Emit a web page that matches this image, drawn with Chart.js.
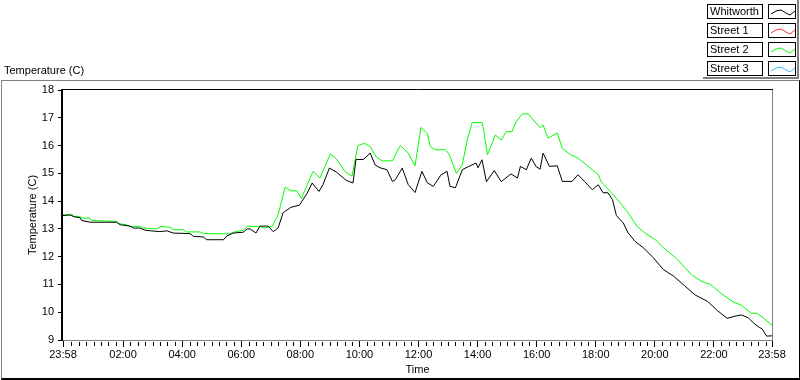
<!DOCTYPE html>
<html>
<head>
<meta charset="utf-8">
<script src="https://cdn.jsdelivr.net/npm/chart.js@4"></script>
<style>
  body { margin: 0; background: #fff; }
  #wrap { position: relative; width: 800px; height: 380px; overflow: hidden; font-family: "Liberation Sans", Arial, sans-serif; font-size: 11px; color: #000; }
  #frame { position: absolute; left: 1px; top: 80px; width: 799px; height: 300px; box-sizing: border-box;
           border-top: 1px solid #808080; border-left: 1px solid #808080; border-right: 1px solid #000; border-bottom: 2px solid #000; }
  #chart { position: absolute; left: 0; top: 0; }
  #plotTitle { position: absolute; left: 4px; top: 64px; line-height: 13px; }
  #legend { position: absolute; left: 703px; top: 0; width: 96px; height: 79px; box-sizing: border-box;
            border-right: 2px solid #808080; border-bottom: 2px solid #808080; }
  .row { position: absolute; left: 4px; height: 15px; }
  .lbl { position: absolute; left: 0; top: 0; width: 56px; height: 15px; box-sizing: border-box; border: 1px solid #000;
         padding-left: 2px; line-height: 13px; white-space: nowrap; }
  .smp { position: absolute; left: 61px; top: 0; width: 28px; height: 15px; box-sizing: border-box; border: 1px solid #000; }
  .smp svg { position: absolute; left: 0; top: 0; }
</style>
</head>
<body>
<div id="wrap">
  <div id="frame"></div>
  <canvas id="chart" width="800" height="380"></canvas>
  <div id="plotTitle">Temperature (C)</div>
  <div id="legend"></div>
</div>
<script>
// minutes since 23:58
const whitworthTimes = [0, 14, 24, 35, 38, 55, 109, 116, 136, 143, 156, 167, 197, 211, 224, 258, 265, 285, 292, 326,
  333, 346, 366, 374, 380, 392, 400, 417, 427, 437, 447, 463, 480, 496, 506, 520, 528, 541, 555, 575,
  589, 595, 610, 624, 634, 644, 658, 669, 675, 689, 701, 715, 729, 740, 752, 768, 780, 786, 797, 811,
  823, 839, 843, 851, 860, 876, 890, 910, 923, 929, 941, 951, 961, 969, 975, 988, 1004, 1014, 1034, 1046,
  1059, 1075, 1087, 1097, 1107, 1116, 1124, 1138, 1148, 1162, 1178, 1197, 1219, 1240, 1262, 1284, 1309, 1329, 1349, 1365,
  1378, 1392, 1402, 1412, 1420, 1429, 1440];
const whitworthTemps = [13.48, 13.5, 13.43, 13.4, 13.3, 13.24, 13.24, 13.15, 13.1, 13.03, 13.03, 12.95, 12.9, 12.93, 12.85, 12.83, 12.73, 12.71, 12.61, 12.61,
  12.75, 12.85, 12.88, 13.0, 13.0, 12.85, 13.1, 13.1, 12.9, 13.04, 13.58, 13.78, 13.85, 14.29, 14.65, 14.35, 14.59, 15.19, 15.05, 14.75,
  14.65, 15.5, 15.5, 15.73, 15.3, 15.2, 15.13, 14.71, 14.77, 15.19, 14.6, 14.31, 15.07, 14.66, 14.53, 14.95, 15.07, 14.53, 14.48, 15.13,
  15.24, 15.37, 15.2, 15.49, 14.7, 15.1, 14.7, 14.98, 14.83, 15.25, 15.13, 15.55, 15.24, 15.15, 15.73, 15.25, 15.27, 14.71, 14.71, 14.95,
  14.71, 14.41, 14.59, 14.3, 14.3, 14.05, 13.48, 13.21, 12.85, 12.55, 12.33, 12.0, 11.54, 11.3, 10.96, 10.62, 10.39, 10.06, 9.78, 9.86,
  9.9, 9.8, 9.62, 9.48, 9.4, 9.14, 9.15];

const street2Times = [0, 18, 21, 35, 38, 55, 58, 109, 112, 129, 136, 156, 163, 190, 197, 217, 224, 244, 251, 278,
  285, 339, 346, 366, 374, 400, 408, 425, 437, 451, 463, 475, 484, 496, 508, 522, 532, 543, 555, 573,
  587, 599, 612, 624, 636, 648, 669, 685, 701, 715, 727, 740, 746, 756, 776, 784, 799, 811, 821, 831,
  851, 855, 862, 868, 878, 890, 900, 912, 920, 933, 945, 955, 969, 975, 985, 1004, 1014, 1030, 1046, 1067,
  1087, 1093, 1114, 1132, 1146, 1166, 1182, 1203, 1219, 1248, 1276, 1296, 1315, 1335, 1361, 1378, 1398, 1410, 1422, 1440];
const street2Temps = [13.5, 13.53, 13.45, 13.45, 13.39, 13.39, 13.3, 13.27, 13.19, 13.15, 13.09, 13.09, 13.03, 13.0, 13.09, 13.06, 12.97, 12.97, 12.89, 12.89,
  12.83, 12.82, 12.88, 12.95, 13.09, 13.09, 13.03, 13.09, 13.51, 14.5, 14.37, 14.37, 14.09, 14.59, 15.07, 14.83, 15.25, 15.7, 15.52, 15.06,
  14.9, 16.0, 16.08, 15.96, 15.6, 15.45, 15.45, 16.0, 15.73, 15.27, 16.65, 16.44, 15.96, 15.85, 15.85, 15.7, 15.0, 15.31, 16.2, 16.83,
  16.83, 16.5, 15.67, 15.92, 16.38, 16.2, 16.5, 16.5, 16.85, 17.14, 17.14, 16.92, 16.65, 16.74, 16.27, 16.45, 15.9, 15.68, 15.55, 15.25,
  14.95, 14.7, 14.3, 13.93, 13.62, 13.09, 12.85, 12.61, 12.33, 11.9, 11.36, 11.12, 11.0, 10.7, 10.37, 10.25, 9.96, 9.96, 9.8, 9.53];

// Street 1 and Street 3 have no data in this chart
const street1Times = [];
const street1Temps = [];
const street3Times = [];
const street3Temps = [];

const seriesNames = ["Whitworth", "Street 1", "Street 2", "Street 3"];
const seriesColors = ["#000000", "#ff3030", "#00ff00", "#30c0ff"];

const timeTicks = [0, 122, 242, 362, 482, 602, 722, 842, 962, 1082, 1202, 1322, 1440];
const timeLabels = ["23:58", "02:00", "04:00", "06:00", "08:00", "10:00", "12:00", "14:00", "16:00", "18:00", "20:00", "22:00", "23:58"];
const tempTicks = [9, 10, 11, 12, 13, 14, 15, 16, 17, 18];

function points(times, temps) {
  return times.map((t, i) => ({ x: t, y: temps[i] }));
}

// legend boxes (top right)
const legend = document.getElementById("legend");
seriesNames.forEach(function (name, i) {
  const row = document.createElement("div");
  row.className = "row";
  row.style.top = (4 + i * 19) + "px";
  row.innerHTML =
    '<div class="lbl">' + name + '</div>' +
    '<div class="smp"><svg width="28" height="15"><polyline fill="none" stroke="' + seriesColors[i] +
    '" stroke-width="1" points="2,9 7,6 12,5 17,8 21,10 26,6"/></svg></div>';
  legend.appendChild(row);
});

Chart.defaults.font.family = '"Liberation Sans", Arial, sans-serif';
Chart.defaults.font.size = 11;
Chart.defaults.color = "#000";

// plot frame + minor time ticks
const frameLines = {
  id: "frameLines",
  afterDraw(chart) {
    const { ctx, chartArea: a, scales: { x } } = chart;
    ctx.save();
    ctx.lineWidth = 1;
    ctx.strokeStyle = "#808080";
    ctx.beginPath();
    ctx.moveTo(a.right + 0.5, a.top);
    ctx.lineTo(a.right + 0.5, a.bottom + 1);
    ctx.moveTo(a.left, a.bottom + 0.5);
    ctx.lineTo(a.right + 1, a.bottom + 0.5);
    ctx.stroke();
    ctx.strokeStyle = "#000";
    ctx.beginPath();
    ctx.moveTo(a.left - 1, a.top - 0.5);
    ctx.lineTo(a.right + 1, a.top - 0.5);
    ctx.stroke();
    ctx.lineWidth = 2;
    ctx.beginPath();
    ctx.moveTo(a.left - 1, a.top - 1);
    ctx.lineTo(a.left - 1, a.bottom + 1);
    ctx.stroke();
    // minor ticks every 15 min of clock time
    ctx.lineWidth = 1;
    ctx.beginPath();
    for (let t = 2; t < 1440; t += 15) {
      if (timeTicks.some((m) => Math.abs(m - t) < 5)) continue;
      const px = Math.round(x.getPixelForValue(t)) + 0.5;
      ctx.moveTo(px, a.bottom + 2);
      ctx.lineTo(px, a.bottom + 6);
    }
    ctx.stroke();
    ctx.restore();
  },
};

new Chart(document.getElementById("chart"), {
  type: "line",
  data: {
    datasets: [
      { label: seriesNames[0], data: points(whitworthTimes, whitworthTemps), borderColor: seriesColors[0] },
      { label: seriesNames[1], data: points(street1Times, street1Temps), borderColor: seriesColors[1] },
      { label: seriesNames[2], data: points(street2Times, street2Temps), borderColor: seriesColors[2] },
      { label: seriesNames[3], data: points(street3Times, street3Temps), borderColor: seriesColors[3] },
    ],
  },
  options: {
    responsive: false,
    animation: false,
    devicePixelRatio: 1,
    layout: { padding: { left: 0, top: 90, right: 28, bottom: 0 } },
    elements: {
      line: { borderWidth: 1, tension: 0 },
      point: { radius: 0 },
    },
    plugins: { legend: { display: false }, tooltip: { enabled: false } },
    scales: {
      x: {
        type: "linear",
        min: 0,
        max: 1440,
        afterBuildTicks: (scale) => { scale.ticks = timeTicks.map((v) => ({ value: v })); },
        afterFit: (scale) => { scale.height = 40; },
        ticks: {
          autoSkip: false,
          maxRotation: 0,
          padding: 1,
          callback: (value, index) => timeLabels[index],
        },
        grid: { drawOnChartArea: false, drawTicks: true, tickLength: 7, tickColor: "#000" },
        border: { display: false },
        title: { display: true, text: "Time", padding: { top: 0, bottom: 3 } },
      },
      y: {
        min: 9,
        max: 18,
        afterBuildTicks: (scale) => { scale.ticks = tempTicks.map((v) => ({ value: v })); },
        afterFit: (scale) => { scale.width = 63; },
        ticks: { padding: 4 },
        grid: { drawOnChartArea: false, drawTicks: true, tickLength: 5, tickColor: "#000" },
        border: { display: false },
        title: { display: true, text: "Temperature (C)", padding: { top: 26, bottom: 0 } },
      },
    },
  },
  plugins: [frameLines],
});
</script>
</body>
</html>
